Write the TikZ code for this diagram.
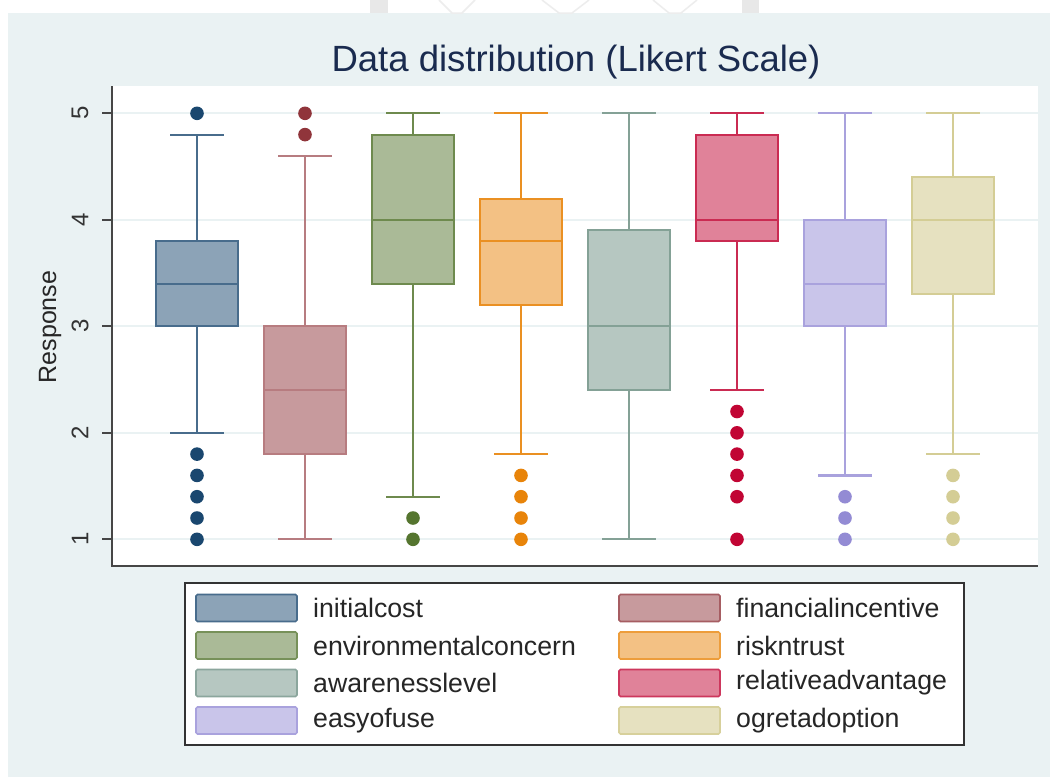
\documentclass[tikz,border=0pt]{standalone}
\usepackage{fontspec}
\setmainfont{Liberation Sans}
\definecolor{bgc}{RGB}{234,242,243}
\definecolor{gridc}{RGB}{234,242,243}
\definecolor{axc}{RGB}{70,70,70}
\definecolor{titc}{RGB}{26,43,79}
\definecolor{cA}{RGB}{26,71,111}
\definecolor{cB}{RGB}{144,53,59}
\definecolor{cC}{RGB}{85,117,47}
\definecolor{cD}{RGB}{232,132,10}
\definecolor{cE}{RGB}{110,144,132}
\definecolor{cF}{RGB}{193,5,52}
\definecolor{cG}{RGB}{147,139,212}
\definecolor{cH}{RGB}{205,196,130}
\tikzset{
  boxln/.style={line width=2pt},
  whisk/.style={line width=2.2pt},
  keybox/.style={line width=1.6pt, rounded corners=1.5pt},
  legtxt/.style={anchor=west, inner sep=0pt, font=\fontsize{26.7}{30}\selectfont, text=black!85},
  ticktxt/.style={rotate=90, inner sep=0pt, font=\fontsize{24}{27}\selectfont, text=black!80},
}
% \bxp{x}{q1}{med}{q3}{lo}{hi}{colour}{fill pct}{line pct}
\newcommand{\bxp}[9]{%
  \def\yy##1{{539.3-(##1-1)*106.5}}%
  \draw[whisk, #7!#9] (#1,\yy{#3}) -- (#1,\yy{#5});
  \draw[whisk, #7!#9] (#1-27,\yy{#5}) -- (#1+27,\yy{#5});
  \draw[whisk, #7!#9] (#1,\yy{#4}) -- (#1,\yy{#6});
  \draw[whisk, #7!#9] (#1-27,\yy{#6}) -- (#1+27,\yy{#6});
  \draw[boxln, draw=#7!#9, fill=#7!#8] (#1-41,\yy{#2}) rectangle (#1+41,\yy{#4});
  \draw[boxln, #7!#9] (#1-41,\yy{#3}) -- (#1+41,\yy{#3});
}
\newcommand{\outl}[3]{%
  \foreach \v in {#3} { \fill[#2] (#1,{539.3-(\v-1)*106.5}) circle (6.8); }
}
\begin{document}
\begin{tikzpicture}[x=1pt,y=-1pt]
\useasboundingbox (0,0) rectangle (1050,777);
% page background
\fill[white] (0,0) rectangle (1050,777);
\fill[bgc] (8,13) rectangle (1050,777);
% faint web artefacts on top strip
\fill[black!9] (370,0) rectangle (388,13);
\fill[black!9] (742,0) rectangle (759,13);
\draw[black!7, line width=1.5pt] (439,0) -- (452,13) -- (462,13) -- (475,0);
\draw[black!7, line width=1.5pt] (542,0) -- (559,13) -- (572,13) -- (589,0);
\draw[black!7, line width=1.5pt] (653,0) -- (669,13) -- (681,13) -- (697,0);
% plot region
\fill[white] (112,86) rectangle (1038,566);
\foreach \k in {1,...,5} {
  \draw[gridc, line width=2pt] (112,{539.3-(\k-1)*106.5}) -- (1038,{539.3-(\k-1)*106.5});
}
% boxes
\bxp{197}{3.0}{3.4}{3.8}{2.0}{4.8}{cA}{50}{80}
\bxp{305}{1.8}{2.4}{3.0}{1.0}{4.6}{cB}{50}{65}
\bxp{413}{3.4}{4.0}{4.8}{1.4}{5.0}{cC}{50}{85}
\bxp{521}{3.2}{3.8}{4.2}{1.8}{5.0}{cD}{50}{90}
\bxp{629}{2.4}{3.0}{3.9}{1.0}{5.0}{cE}{50}{85}
\bxp{737}{3.8}{4.0}{4.8}{2.4}{5.0}{cF}{50}{85}
\bxp{845}{3.0}{3.4}{4.0}{1.6}{5.0}{cG}{50}{80}
\bxp{953}{3.3}{4.0}{4.4}{1.8}{5.0}{cH}{50}{85}
\outl{197}{cA}{5.0,1.8,1.6,1.4,1.2,1.0}
\outl{305}{cB}{5.0,4.8}
\outl{413}{cC}{1.2,1.0}
\outl{521}{cD}{1.6,1.4,1.2,1.0}
\outl{737}{cF}{2.2,2.0,1.8,1.6,1.4,1.0}
\outl{845}{cG}{1.4,1.2,1.0}
\outl{953}{cH!85}{1.6,1.4,1.2,1.0}
% axes
\coordinate (axtop) at (112,86);
\coordinate (axorig) at (112,566);
\coordinate (axright) at (1038,566);
\draw[axc, line width=2pt] (axtop) -- (axorig) -- (axright);
\foreach \k in {1,...,5} {
  \draw[axc, line width=2pt] (102,{539.3-(\k-1)*106.5}) -- (112,{539.3-(\k-1)*106.5});
  \node[ticktxt] (tick\k) at (80,{539.3-(\k-1)*106.5}) {\k};
}
\node[rotate=90, inner sep=0pt, font=\fontsize{25}{28}\selectfont, text=black!85] (ylab) at (50,327) {Response};
% title
\node[inner sep=0pt, font=\fontsize{36.5}{40}\selectfont, text=titc] (title) at (576,62) {Data distribution (Likert Scale)};
% legend
\draw[black!80, line width=1.8pt, fill=white] (185,583) rectangle (964,745);
\foreach \c/\f/\r/\t in {0/cA/608/initialcost, 0/cC/645.5/environmentalconcern, 0/cE/683/awarenesslevel, 0/cG/720.5/easyofuse,
                         1/cB/608/financialincentive, 1/cD/645.5/riskntrust, 1/cF/683/relativeadvantage, 1/cH/720.5/ogretadoption} {
  \pgfmathsetmacro{\kx}{196+\c*423}
  \draw[keybox, draw=\f!80, fill=\f!50] (\kx,\r-13.5) rectangle (\kx+101,\r+13.5);
  \node[legtxt] (leg\t) at (\kx+117,\r) {\t};
}
\end{tikzpicture}
\end{document}
